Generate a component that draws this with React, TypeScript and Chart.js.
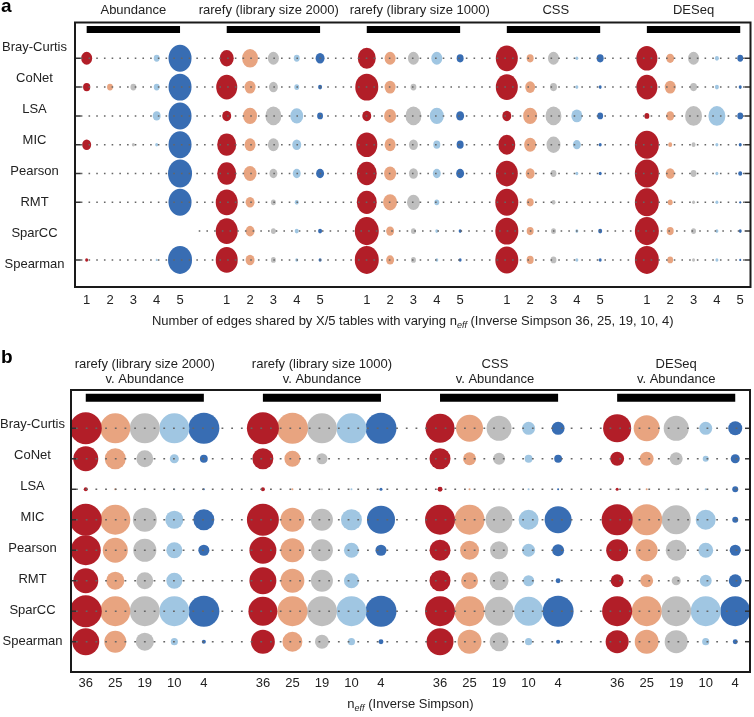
import React, { useEffect, useRef } from 'react';
import { Chart, registerables, BubbleController, PointElement } from 'chart.js';

Chart.register(...registerables);

// ---------- custom elliptical bubble (panel a uses slightly tall ellipses) ----------
const ELLIPSE_ASPECT = 1.17;
class EllipsePoint extends (PointElement as any) {
  static id = 'ellipsePoint';
  draw(ctx: CanvasRenderingContext2D) {
    const self: any = this;
    const o: any = self.options;
    if (self.skip || !o || o.radius < 0.1) return;
    ctx.save();
    ctx.beginPath();
    ctx.ellipse(self.x, self.y, o.radius, o.radius * ELLIPSE_ASPECT, 0, 0, Math.PI * 2);
    ctx.fillStyle = o.backgroundColor;
    ctx.fill();
    if (o.borderWidth > 0) {
      ctx.lineWidth = o.borderWidth;
      ctx.strokeStyle = o.borderColor;
      ctx.stroke();
    }
    ctx.restore();
  }
}
class EllipseBubbleController extends (BubbleController as any) {
  static id = 'ellipseBubble';
  static defaults = { ...(BubbleController as any).defaults, dataElementType: 'ellipsePoint' };
}
Chart.register(EllipsePoint as any, EllipseBubbleController as any);

Chart.defaults.font.family = '"Liberation Sans", Arial, Helvetica, sans-serif';
Chart.defaults.font.size = 13;
Chart.defaults.color = '#222';

// ---------- data ----------
const methods = ['Bray-Curtis', 'CoNet', 'LSA', 'MIC', 'Pearson', 'RMT', 'SparCC', 'Spearman'];

const groupsA = ['Abundance', 'rarefy (library size 2000)', 'rarefy (library size 1000)', 'CSS', 'DESeq'];
const tickLabelsA = ['1', '2', '3', '4', '5'];

const groupsB = [
  ['rarefy (library size 2000)', 'v. Abundance'],
  ['rarefy (library size 1000)', 'v. Abundance'],
  ['CSS', 'v. Abundance'],
  ['DESeq', 'v. Abundance'],
];
const tickLabelsB = ['36', '25', '19', '10', '4'];

const colors = ['#B21E28', '#E8A480', '#BEBEBE', '#A0C6E2', '#386DB3'];

// relative bubble size (100 = largest bubble); rows follow `methods`, columns the 5 x positions
const abundanceA = [
  [21, null, null, 6, 92],
  [9, 6, 6, 6, 92],
  [null, null, null, 11, 92],
  [14, null, 1.6, 1.6, 92],
  [null, null, null, null, 100],
  [null, null, null, null, 92],
  [null, null, null, null, null],
  [1.6, null, null, 0.7, 100],
];
const rarefy2000A = [
  [34, 44, 21, 6, 14],
  [77, 21, 14, 4.3, 2.8],
  [14, 34, 44, 29, 6],
  [63, 21, 21, 14, null],
  [63, 29, 11, 11, 11],
  [84, 14, 4.3, 2.8, null],
  [84, 14, 4.3, 2.8, 2.8],
  [84, 14, 4.3, 1.6, 1.6],
];
const rarefy1000A = [
  [56, 21, 21, 21, 8.5],
  [92, 21, 6, null, null],
  [14, 25, 44, 34, 11],
  [77, 21, 14, 8.5, 8.5],
  [69, 25, 14, 11, 11],
  [69, 34, 29, 4.3, null],
  [100, 11, 4.3, 1.6, 1.6],
  [100, 11, 4.3, 1.6, 1.6],
];
const cssA = [
  [84, 8.5, 21, 1.6, 8.5],
  [84, 17, 8.5, 1.6, 1.6],
  [14, 34, 44, 21, 6],
  [50, 25, 34, 11, 1.6],
  [84, 14, 6, 1.6, 1.6],
  [92, 8.5, 2.8, null, null],
  [92, 8.5, 4.3, 1.6, 2.8],
  [92, 8.5, 6, 1.6, 1.6],
];
const deseqA = [
  [77, 11, 21, 2.8, 6],
  [77, 21, 8.5, 2.8, 1.6],
  [4.3, 11, 50, 50, 6],
  [100, 2.8, 2.8, 1.6, 1.6],
  [100, 14, 6, 1.6, 2.8],
  [100, 4.3, 1.6, 1.6, 0.7],
  [100, 8.5, 4.3, 1.6, 1.6],
  [100, 6, 1.6, 1.6, 0.7],
];

const rarefy2000B = [
  [100, 88, 88, 88, 94],
  [61, 43, 28, 8, 6],
  [1.6, 0.4, 0.4, 0.4, 0.4],
  [100, 88, 56, 32, 43],
  [88, 61, 52, 25, 12],
  [61, 32, 28, 25, null],
  [100, 88, 88, 88, 94],
  [71, 47, 32, 5, 1.6],
];
const rarefy1000B = [
  [100, 94, 88, 88, 94],
  [43, 25, 12, null, null],
  [1.6, 0.4, 0.4, 0.4, 0.9],
  [100, 56, 47, 43, 77],
  [71, 56, 47, 22, 12],
  [71, 56, 47, 22, null],
  [82, 88, 88, 88, 94],
  [56, 39, 19, 5, 2.4],
];
const cssB = [
  [82, 71, 61, 16.5, 16.5],
  [43, 16.5, 14, 6, 6],
  [2.4, 0.4, 0.4, 0.4, 0.4],
  [88, 88, 71, 39, 71],
  [43, 35, 32, 16.5, 14],
  [43, 28, 35, 12, 2.4],
  [88, 88, 82, 82, 94],
  [71, 56, 35, 5, 1.6],
];
const deseqB = [
  [77, 66, 61, 16.5, 19],
  [19, 19, 16.5, 3.5, 8],
  [0.9, 0.4, 0.4, 0.4, 3.5],
  [94, 94, 82, 39, 3.5],
  [47, 47, 43, 22, 12],
  [16.5, 16.5, 8, 14, 16.5],
  [88, 88, 88, 88, 88],
  [52, 56, 52, 5, 2.4],
];

const valuesA = [abundanceA, rarefy2000A, rarefy1000A, cssA, deseqA];
const valuesB = [rarefy2000B, rarefy1000B, cssB, deseqB];

// ---------- helpers ----------
const STEP = 6; // each group occupies 5 positions + 1 gap

const decorPlugin = {
  id: 'decor',
  afterDraw(chart: any, _args: any, opts: any) {
    const { ctx, chartArea: a } = chart;
    ctx.save();
    // frame
    ctx.strokeStyle = '#1a1a1a';
    ctx.lineWidth = 2;
    ctx.strokeRect(a.left, a.top, a.right - a.left, a.bottom - a.top);
    // panel letter
    ctx.fillStyle = '#000';
    ctx.textAlign = 'left';
    ctx.textBaseline = 'alphabetic';
    ctx.font = 'bold 19px "Liberation Sans", Arial, sans-serif';
    ctx.fillText(opts.letter, opts.letterX, opts.letterY);
    // axis title with subscript
    const normal = '13px "Liberation Sans", Arial, sans-serif';
    const sub = 'italic 9px "Liberation Sans", Arial, sans-serif';
    const parts = opts.title as { t: string; sub?: boolean }[];
    let total = 0;
    const widths = parts.map((p) => {
      ctx.font = p.sub ? sub : normal;
      const w = ctx.measureText(p.t).width;
      total += w;
      return w;
    });
    let x = (a.left + a.right) / 2 - total / 2;
    ctx.fillStyle = '#222';
    ctx.textBaseline = 'middle';
    parts.forEach((p, i) => {
      ctx.font = p.sub ? sub : normal;
      ctx.fillText(p.t, x, opts.titleY + (p.sub ? 4 : 0));
      x += widths[i];
    });
    ctx.restore();
  },
};

function buildConfig(p: any) {
  const datasets: any[] = [];
  const nGroups = p.values.length;
  const xMin = -0.5;
  const xMax = p.xMax;

  // dotted row guide lines (with short solid ticks at the frame edges)
  methods.forEach((_m, mi) => {
    const firstG = p.values.findIndex((g: any) => g[mi].some((v: any) => v != null));
    const pts: any[] = [];
    const solid: number[] = [];
    if (firstG <= 0) {
      pts.push({ x: xMin, y: mi }, { x: xMin + p.tickLen, y: mi });
      solid.push(0);
    } else {
      pts.push({ x: firstG * STEP - 1.2, y: mi });
    }
    pts.push({ x: xMax - p.tickLen, y: mi }, { x: xMax, y: mi });
    solid.push(pts.length - 2);
    datasets.push({
      type: 'line',
      data: pts,
      xAxisID: 'x',
      yAxisID: 'y',
      borderColor: '#666',
      borderWidth: 1.5,
      borderDash: p.dash,
      pointRadius: 0,
      order: 0,
      segment: {
        borderDash: (c: any) => (solid.includes(c.p0DataIndex) ? [] : p.dash),
        borderColor: (c: any) => (solid.includes(c.p0DataIndex) ? '#333' : '#666'),
      },
    });
  });

  // black group bars
  for (let g = 0; g < nGroups; g++) {
    datasets.push({
      type: 'line',
      data: [
        { x: g * STEP, y: -1 },
        { x: g * STEP + 4, y: -1 },
      ],
      xAxisID: 'x',
      yAxisID: 'y',
      borderColor: '#000',
      borderWidth: p.barW,
      borderCapStyle: 'butt',
      pointRadius: 0,
      order: 0,
    });
  }

  // bubbles, one dataset per colour position
  colors.forEach((col, c) => {
    const data: any[] = [];
    p.values.forEach((grp: any, g: number) =>
      grp.forEach((row: any, mi: number) => {
        const v = row[c];
        if (v != null) data.push({ x: g * STEP + c, y: mi, r: p.rMax * Math.sqrt(v / 100) });
      })
    );
    datasets.push({
      type: p.bubbleType,
      data,
      xAxisID: 'x',
      yAxisID: 'y',
      backgroundColor: col,
      borderWidth: 0,
      order: 1,
    });
  });

  const tickValues: number[] = [];
  for (let g = 0; g < nGroups; g++) for (let i = 0; i < 5; i++) tickValues.push(g * STEP + i);
  const titlePos: number[] = p.titlePos;

  return {
    type: p.bubbleType,
    data: { datasets },
    plugins: [decorPlugin],
    options: {
      animation: false,
      responsive: false,
      events: [],
      layout: { autoPadding: false, padding: { left: 0, right: p.rightPad, top: 0, bottom: 0 } },
      plugins: {
        legend: { display: false },
        tooltip: { enabled: false },
        decor: { letter: p.letter, letterX: 1, letterY: p.letterY, titleY: p.titleY, title: p.title },
      },
      scales: {
        x: {
          type: 'linear',
          position: 'bottom',
          min: xMin,
          max: xMax,
          afterBuildTicks: (s: any) => {
            s.ticks = tickValues.map((v) => ({ value: v }));
          },
          ticks: {
            autoSkip: false,
            maxRotation: 0,
            padding: p.padBottom,
            color: '#222',
            font: { size: 13 },
            callback: (v: number) => p.tickLabels[Math.round(v) % STEP],
          },
          grid: { display: false, drawTicks: false },
          border: { display: false },
          afterFit: (s: any) => {
            s.height = p.bottomH;
          },
        },
        xt: {
          type: 'linear',
          axis: 'x',
          position: 'top',
          min: xMin,
          max: xMax,
          afterBuildTicks: (s: any) => {
            s.ticks = titlePos.map((v) => ({ value: v }));
          },
          ticks: {
            autoSkip: false,
            maxRotation: 0,
            padding: p.padTop,
            color: '#222',
            font: { size: 13, lineHeight: p.lineH },
            callback: (_v: number, i: number) => p.groups[i],
          },
          grid: { display: false, drawTicks: false },
          border: { display: false },
          afterFit: (s: any) => {
            s.height = p.topH;
          },
        },
        y: {
          type: 'linear',
          display: false,
          reverse: true,
          min: p.rowMin,
          max: p.rowMax,
        },
        yl: {
          type: 'linear',
          axis: 'y',
          position: 'left',
          reverse: true,
          min: p.lblMin,
          max: p.lblMax,
          afterBuildTicks: (s: any) => {
            s.ticks = methods.map((_m, i) => ({ value: i }));
          },
          ticks: {
            autoSkip: false,
            crossAlign: 'center',
            padding: p.labelPad,
            color: '#222',
            font: { size: 13 },
            callback: (_v: number, i: number) => methods[i],
          },
          grid: { display: false, drawTicks: false },
          border: { display: false },
          afterFit: (s: any) => {
            s.width = p.leftW;
          },
        },
      },
    },
  };
}

export default function App() {
  const refA = useRef<HTMLCanvasElement | null>(null);
  const refB = useRef<HTMLCanvasElement | null>(null);

  useEffect(() => {
    const cfgA = buildConfig({
      values: valuesA,
      groups: groupsA,
      titlePos: [2, 7.8, 14.27, 20.1, 26],
      tickLabels: tickLabelsA,
      bubbleType: 'ellipseBubble',
      rMax: 12,
      xMax: 28.44,
      rowMin: -1.243,
      rowMax: 7.94,
      lblMin: -0.806,
      lblMax: 7.742,
      tickLen: 0.25,
      dash: [1.6, 6.1],
      barW: 7,
      padBottom: 6,
      padTop: 4,
      lineH: 1.2,
      bottomH: 53,
      topH: 22.5,
      leftW: 75,
      rightPad: 3.5,
      labelPad: 8,
      letter: 'a',
      letterY: 12,
      titleY: 321.5,
      title: [
        { t: 'Number of edges shared by X/5 tables with varying n' },
        { t: 'eff', sub: true },
        { t: ' (Inverse Simpson 36, 25, 19, 10, 4)' },
      ],
    });
    const cfgB = buildConfig({
      values: valuesB,
      groups: groupsB,
      titlePos: [2, 8, 13.86, 20],
      tickLabels: tickLabelsB,
      bubbleType: 'bubble',
      rMax: 16,
      xMax: 22.5,
      rowMin: -1.256,
      rowMax: 7.994,
      lblMin: -1.097,
      lblMax: 8.0,
      tickLen: 0.17,
      dash: [1.8, 7.9],
      barW: 8,
      padBottom: 4,
      padTop: 3.5,
      lineH: 1.15,
      bottomH: 45,
      topH: 50,
      leftW: 71,
      rightPad: 4,
      labelPad: 6,
      letter: 'b',
      letterY: 23,
      titleY: 364,
      title: [{ t: 'n' }, { t: 'eff', sub: true }, { t: ' (Inverse Simpson)' }],
    });
    const ca = new Chart(refA.current as HTMLCanvasElement, cfgA as any);
    const cb = new Chart(refB.current as HTMLCanvasElement, cfgB as any);
    return () => {
      ca.destroy();
      cb.destroy();
    };
  }, []);

  return (
    <div style={{ position: 'absolute', left: 0, top: 0, width: 754, height: 717, background: '#fff' }}>
      <canvas
        ref={refA}
        width={754}
        height={340}
        style={{ position: 'absolute', left: 0, top: 0, width: 754, height: 340 }}
      />
      <canvas
        ref={refB}
        width={754}
        height={377}
        style={{ position: 'absolute', left: 0, top: 340, width: 754, height: 377 }}
      />
    </div>
  );
}
